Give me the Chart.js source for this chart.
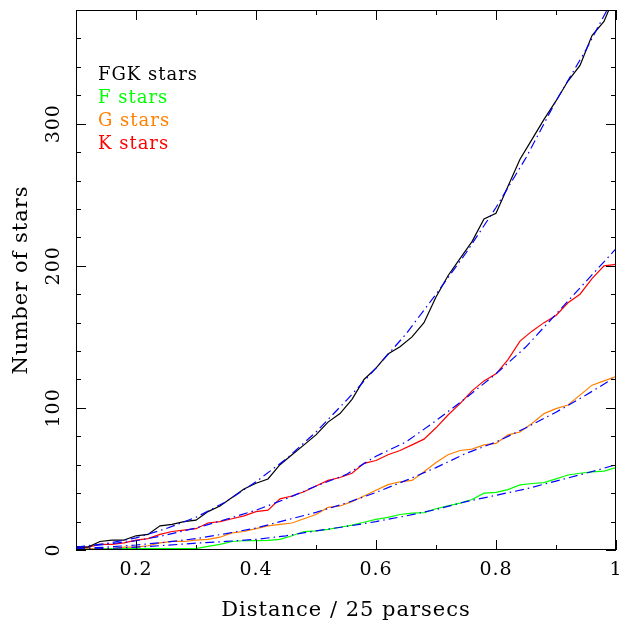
<!DOCTYPE html>
<html>
<head>
<meta charset="utf-8">
<script src="https://cdn.jsdelivr.net/npm/chart.js@4.4.1/dist/chart.umd.min.js"></script>
<style>
    html, body { margin: 0; padding: 0; background: #fff; }
</style>
</head>
<body>
<canvas id="myChart" width="626" height="623"></canvas>
<script>
const distObs = [0.10, 0.12, 0.14, 0.16, 0.18, 0.20, 0.22, 0.24, 0.26, 0.28,
                 0.30, 0.32, 0.34, 0.36, 0.38, 0.40, 0.42, 0.44, 0.46, 0.48,
                 0.50, 0.52, 0.54, 0.56, 0.58, 0.60, 0.62, 0.64, 0.66, 0.68,
                 0.70, 0.72, 0.74, 0.76, 0.78, 0.80, 0.82, 0.84, 0.86, 0.88,
                 0.90, 0.92, 0.94, 0.96, 0.98, 1.00];
const fgkCounts = [2, 2, 6, 7, 7, 10, 11, 17, 18, 20,
                   21, 27, 31, 37, 43, 47, 50, 60, 67, 74,
                   81, 90, 96, 106, 120, 128, 138, 143, 150, 160,
                   178, 193, 205, 217, 233, 237, 256, 275, 289, 303,
                   316, 330, 341, 362, 372, 392];
const fCounts = [0.5, 0.5, 0.5, 1, 1, 1, 1, 1, 1, 1,
                 1, 2.5, 4, 6, 6.5, 6.6, 6.8, 7.5, 10, 13,
                 13.5, 14.5, 16, 17.5, 19.5, 21.5, 23, 25, 26, 26.3,
                 29, 31, 33, 35.5, 40, 40.5, 42.5, 45.8, 46.8, 47.4,
                 50, 52.8, 54, 55, 55.5, 58];
const gCounts = [1, 1, 1, 1, 2, 2, 3, 5, 6, 6,
                 7, 7.5, 9, 12, 13, 15, 17, 18, 19, 22,
                 25, 30, 31, 34, 38, 42, 46, 48, 49, 55,
                 61.5, 67, 70, 71, 74, 75, 81, 83, 89, 96,
                 99.5, 102, 109, 116, 119, 122];
const kCounts = [2, 2, 4, 4, 5, 7, 8, 11, 13, 14,
                 15, 19, 20, 22, 24, 27, 28, 36, 38, 41,
                 45, 49, 51, 54, 61, 63, 67, 70, 74, 78,
                 86, 95, 103, 112, 119, 124, 134, 147, 154, 160,
                 165, 174, 180, 191, 200, 201];

// blue dash-dot model curves, read every 0.05
const distFit = [0.10, 0.15, 0.20, 0.25, 0.30, 0.35, 0.40, 0.45, 0.50, 0.55,
                 0.60, 0.65, 0.70, 0.75, 0.80, 0.85, 0.90, 0.95, 1.00];
const fgkFit = [2, 4.5, 8.5, 15, 23, 34, 48, 64, 83, 105,
                128, 152, 180, 209, 241, 276, 316, 352, 392];
const fFit = [0.5, 1, 2, 3.3, 4.8, 6, 7.5, 10, 13.5, 16.5,
              20, 24, 28.5, 34, 38.5, 43, 48.5, 54, 60];
const gFit = [1, 2, 3.5, 5.5, 8, 11.5, 15.5, 21, 26.5, 33,
              40.5, 49, 58, 68, 76, 86, 97, 109, 122];
const kFit = [2, 4, 6.5, 10.5, 15.5, 21.5, 28, 36, 45, 53,
              66, 76, 91, 107, 124, 143, 166, 189, 212];

const xTicks = [0.2, 0.4, 0.6, 0.8, 1];
const yTicks = [0, 100, 200, 300];
const legendLabels = ['FGK stars', 'F stars', 'G stars', 'K stars'];
const seriesColors = ['#000000', '#00ff00', '#ff8000', '#ff0000'];
const fitColor = '#0000ff';

const FONT = 'DejaVu Serif';

let myChart;

function toPoints(xs, ys) {
    return xs.map((x, i) => ({ x: x, y: ys[i] }));
}

// inward ticks on all four sides, frame, rotated y labels and the text legend
const frameTicks = {
    id: 'frameTicks',
    beforeDraw(chart) {
        chart.ctx.letterSpacing = '1px';
    },
    afterDraw(chart) {
        const ctx = chart.ctx;
        const a = chart.chartArea;
        const xs = chart.scales.x;
        const ys = chart.scales.y;
        ctx.save();
        ctx.strokeStyle = '#000';
        ctx.lineWidth = 1;
        ctx.strokeRect(a.left + 0.5, a.top + 0.5, a.right - a.left - 1, a.bottom - a.top - 1);

        ctx.beginPath();
        for (let i = 1; i <= 10; i++) {
            const px = Math.round(xs.getPixelForValue(i / 10)) + 0.5;
            const len = (i % 2 === 0) ? 10 : 5;
            ctx.moveTo(px, a.bottom);
            ctx.lineTo(px, a.bottom - len);
            ctx.moveTo(px, a.top);
            ctx.lineTo(px, a.top + len);
        }
        for (let v = 0; v <= 380; v += 20) {
            const py = Math.round(ys.getPixelForValue(v)) + 0.5;
            const len = (v % 100 === 0) ? 10 : 5;
            ctx.moveTo(a.left, py);
            ctx.lineTo(a.left + len, py);
            ctx.moveTo(a.right, py);
            ctx.lineTo(a.right - len, py);
        }
        ctx.stroke();

        ctx.fillStyle = '#000';
        ctx.font = '19px "' + FONT + '"';
        ctx.textAlign = 'center';
        ctx.textBaseline = 'middle';
        yTicks.forEach(v => {
            ctx.save();
            ctx.translate(a.left - 22, ys.getPixelForValue(v));
            ctx.rotate(-Math.PI / 2);
            ctx.fillText(String(v), 0, 0);
            ctx.restore();
        });

        ctx.font = '18px "' + FONT + '"';
        ctx.textAlign = 'left';
        ctx.textBaseline = 'alphabetic';
        legendLabels.forEach((lab, i) => {
            ctx.fillStyle = seriesColors[i];
            ctx.fillText(lab, a.left + 22, 80 + i * 23);
        });
        ctx.restore();
    }
};

function drawChart() {
    const obs = [fgkCounts, fCounts, gCounts, kCounts];
    const fits = [fgkFit, fFit, gFit, kFit];
    const datasets = [];

    fits.forEach((f, i) => {
        datasets.push({
            label: legendLabels[i] + ' fit',
            data: toPoints(distFit, f),
            borderColor: fitColor,
            borderWidth: 1.2,
            borderDash: [9, 4, 1.5, 4],
            pointRadius: 0,
            showLine: true,
            fill: false,
            order: 0
        });
    });
    obs.forEach((c, i) => {
        datasets.push({
            label: legendLabels[i],
            data: toPoints(distObs, c),
            borderColor: seriesColors[i],
            borderWidth: 1.2,
            pointRadius: 0,
            showLine: true,
            fill: false,
            order: 1
        });
    });

    const ctx = document.getElementById('myChart').getContext('2d');
    myChart = new Chart(ctx, {
        type: 'scatter',
        data: { datasets: datasets },
        plugins: [frameTicks],
        options: {
            responsive: false,
            animation: false,
            events: [],
            layout: { padding: { left: 0, right: 10, top: 10, bottom: 0 } },
            plugins: {
                legend: { display: false },
                tooltip: { enabled: false }
            },
            scales: {
                x: {
                    type: 'linear',
                    min: 0.1,
                    max: 1.0,
                    afterBuildTicks: s => { s.ticks = xTicks.map(v => ({ value: v })); },
                    afterFit: s => {
                        s.height = 73;
                        s.paddingLeft = 0;
                        s.paddingRight = 0;
                    },
                    grid: { display: false, drawTicks: false },
                    border: { display: false },
                    ticks: {
                        color: '#000',
                        padding: 9,
                        maxRotation: 0,
                        autoSkip: false,
                        callback: v => String(Math.round(v * 10) / 10),
                        font: { family: FONT, size: 19 }
                    },
                    title: {
                        display: true,
                        text: 'Distance / 25 parsecs',
                        color: '#000',
                        padding: { top: 0, bottom: 0 },
                        font: { family: FONT, size: 21, lineHeight: 1.2 }
                    }
                },
                y: {
                    type: 'linear',
                    min: 0,
                    max: 380,
                    afterBuildTicks: s => { s.ticks = yTicks.map(v => ({ value: v })); },
                    afterFit: s => {
                        s.width = 76;
                        s.paddingTop = 0;
                        s.paddingBottom = 0;
                    },
                    grid: { display: false, drawTicks: false },
                    border: { display: false },
                    ticks: { display: false },
                    title: {
                        display: true,
                        text: 'Number of stars',
                        color: '#000',
                        padding: { top: 9, bottom: 0 },
                        font: { family: FONT, size: 21, lineHeight: 1.2 }
                    }
                }
            }
        }
    });
}

document.addEventListener('DOMContentLoaded', function() {
    drawChart();
});
</script>
</body>
</html>
